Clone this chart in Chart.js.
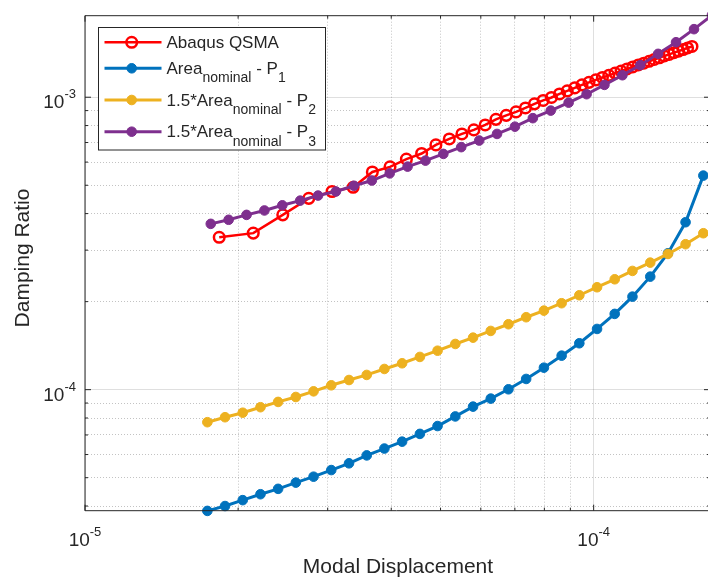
<!DOCTYPE html>
<html>
<head>
<meta charset="utf-8">
<script src="https://cdn.jsdelivr.net/npm/chart.js@4.4.1/dist/chart.umd.min.js"></script>
<style>
  html, body { margin: 0; padding: 0; background: #fff; overflow: hidden; }
  canvas { display: block; }
</style>
</head>
<body>
<canvas id="damping" width="708" height="580"></canvas>
<script>
// Abaqus QSMA reference run
const qsmaDisp = [1.836e-5, 2.142e-5, 2.448e-5, 2.754e-5, 3.060e-5, 3.366e-5, 3.672e-5, 3.978e-5, 4.284e-5, 4.590e-5,
  4.896e-5, 5.202e-5, 5.508e-5, 5.814e-5, 6.120e-5, 6.426e-5, 6.732e-5, 7.038e-5, 7.344e-5, 7.650e-5,
  7.956e-5, 8.262e-5, 8.568e-5, 8.874e-5, 9.180e-5, 9.486e-5, 9.792e-5, 1.0098e-4, 1.0404e-4, 1.0710e-4,
  1.1016e-4, 1.1322e-4, 1.1628e-4, 1.1934e-4, 1.2240e-4, 1.2546e-4, 1.2852e-4, 1.3158e-4, 1.3464e-4, 1.3770e-4,
  1.4076e-4, 1.4382e-4, 1.4688e-4, 1.4994e-4, 1.5300e-4, 1.5606e-4];
const qsmaDamping = [3.32e-4, 3.43e-4, 3.96e-4, 4.51e-4, 4.76e-4, 4.92e-4, 5.55e-4, 5.78e-4, 6.14e-4, 6.42e-4,
  6.87e-4, 7.20e-4, 7.49e-4, 7.73e-4, 8.04e-4, 8.40e-4, 8.67e-4, 8.91e-4, 9.19e-4, 9.49e-4,
  9.75e-4, 9.98e-4, 1.026e-3, 1.051e-3, 1.076e-3, 1.102e-3, 1.124e-3, 1.146e-3, 1.168e-3, 1.188e-3,
  1.209e-3, 1.229e-3, 1.249e-3, 1.269e-3, 1.289e-3, 1.307e-3, 1.327e-3, 1.346e-3, 1.364e-3, 1.384e-3,
  1.401e-3, 1.420e-3, 1.438e-3, 1.456e-3, 1.474e-3, 1.491e-3];

// P1 / P2 share the same displacement sweep
const p12Disp = [1.740e-5, 1.885e-5, 2.042e-5, 2.213e-5, 2.397e-5, 2.597e-5, 2.814e-5, 3.049e-5, 3.304e-5, 3.580e-5,
  3.878e-5, 4.202e-5, 4.554e-5, 4.933e-5, 5.346e-5, 5.793e-5, 6.276e-5, 6.800e-5, 7.367e-5, 7.984e-5,
  8.650e-5, 9.372e-5, 1.0155e-4, 1.100e-4, 1.192e-4, 1.292e-4, 1.400e-4, 1.516e-4, 1.643e-4];
const p1Damping = [3.85e-5, 4.00e-5, 4.19e-5, 4.39e-5, 4.58e-5, 4.81e-5, 5.04e-5, 5.31e-5, 5.60e-5, 5.96e-5,
  6.29e-5, 6.64e-5, 7.06e-5, 7.51e-5, 8.10e-5, 8.75e-5, 9.32e-5, 1.003e-4, 1.088e-4, 1.189e-4,
  1.307e-4, 1.441e-4, 1.613e-4, 1.816e-4, 2.080e-4, 2.435e-4, 2.927e-4, 3.737e-4, 5.395e-4];
const p2Damping = [7.74e-5, 8.05e-5, 8.34e-5, 8.71e-5, 9.08e-5, 9.44e-5, 9.87e-5, 1.035e-4, 1.079e-4, 1.123e-4,
  1.177e-4, 1.231e-4, 1.294e-4, 1.359e-4, 1.433e-4, 1.506e-4, 1.588e-4, 1.674e-4, 1.769e-4, 1.863e-4,
  1.975e-4, 2.103e-4, 2.240e-4, 2.385e-4, 2.547e-4, 2.719e-4, 2.911e-4, 3.143e-4, 3.427e-4];

const p3Disp = [1.767e-5, 1.916e-5, 2.078e-5, 2.253e-5, 2.443e-5, 2.649e-5, 2.872e-5, 3.114e-5, 3.378e-5, 3.663e-5,
  3.972e-5, 4.307e-5, 4.670e-5, 5.064e-5, 5.491e-5, 5.957e-5, 6.457e-5, 7.002e-5, 7.593e-5, 8.234e-5,
  8.929e-5, 9.685e-5, 1.050e-4, 1.139e-4, 1.235e-4, 1.339e-4, 1.452e-4, 1.575e-4, 1.708e-4];
const p3Damping = [3.69e-4, 3.81e-4, 3.96e-4, 4.10e-4, 4.27e-4, 4.43e-4, 4.61e-4, 4.76e-4, 4.98e-4, 5.19e-4,
  5.49e-4, 5.79e-4, 6.07e-4, 6.40e-4, 6.75e-4, 7.11e-4, 7.49e-4, 7.93e-4, 8.48e-4, 9.00e-4,
  9.58e-4, 1.024e-3, 1.102e-3, 1.189e-3, 1.287e-3, 1.407e-3, 1.542e-3, 1.709e-3, 1.907e-3];

// axis ranges and tick positions (log scale, decades + minor 2..9)
const X_MIN = 1e-5, X_MAX = 1.678e-4;
const Y_MIN = 3.856e-5, Y_MAX = 1.90e-3;
const xTicks = [1e-5, 2e-5, 3e-5, 4e-5, 5e-5, 6e-5, 7e-5, 8e-5, 9e-5, 1e-4];
const yTicks = [4e-5, 5e-5, 6e-5, 7e-5, 8e-5, 9e-5, 1e-4, 2e-4, 3e-4, 4e-4, 5e-4, 6e-4, 7e-4, 8e-4, 9e-4, 1e-3];
const xTickLabels = [[1e-5, '-5'], [1e-4, '-4']];
const yTickLabels = [[1e-4, '-4'], [1e-3, '-3']];

// legend text pieces: [text, isSubscript]
const seriesLabels = [
  [['Abaqus QSMA', 0]],
  [['Area', 0], ['nominal', 1], [' - P', 0], ['1', 1]],
  [['1.5*Area', 0], ['nominal', 1], [' - P', 0], ['2', 1]],
  [['1.5*Area', 0], ['nominal', 1], [' - P', 0], ['3', 1]],
];

const FONT = '"Liberation Sans", Arial, Helvetica, sans-serif';
const INK = '#262626';
const isDecade = (v) => Math.abs(Math.log10(v) - Math.round(Math.log10(v))) < 1e-6;
const pairs = (xs, ys) => xs.map((x, i) => ({ x, y: ys[i] }));

const lineSeries = (label, xs, ys, color, order, open) => ({
  label,
  data: pairs(xs, ys),
  borderColor: color,
  borderWidth: open ? 2.5 : 3,
  pointRadius: open ? 5.3 : 4.8,
  pointBorderWidth: open ? 2.5 : 1,
  pointBorderColor: color,
  pointBackgroundColor: open ? 'rgba(0,0,0,0)' : color,
  pointHoverRadius: 5,
  tension: 0,
  clip: false,
  order,
});

// draws "10" with a raised exponent
function drawPower(ctx, exp, x, y, align) {
  ctx.font = `19px ${FONT}`;
  const wb = ctx.measureText('10').width;
  ctx.font = `13px ${FONT}`;
  const we = ctx.measureText(exp).width;
  const x0 = align === 'right' ? x - wb - we : x - (wb + we) / 2;
  ctx.textAlign = 'left';
  ctx.textBaseline = 'alphabetic';
  ctx.font = `19px ${FONT}`;
  ctx.fillText('10', x0, y);
  ctx.font = `13px ${FONT}`;
  ctx.fillText(exp, x0 + wb, y - 10);
}

const axesDecor = {
  id: 'axesDecor',
  afterDatasetsDraw(chart) {
    const { ctx, chartArea: { left, top, right, bottom }, scales: { x, y } } = chart;
    const rightAxis = right + 2; // right spine sits just past the visible edge
    ctx.save();
    ctx.strokeStyle = INK;
    ctx.lineWidth = 1;
    ctx.beginPath();
    ctx.moveTo(right, top); ctx.lineTo(left, top);
    ctx.lineTo(left, bottom); ctx.lineTo(right, bottom);
    // inward tick marks
    x.ticks.forEach((t) => {
      const px = x.getPixelForValue(t.value);
      const len = isDecade(t.value) ? 6 : 3;
      ctx.moveTo(px, bottom); ctx.lineTo(px, bottom - len);
      ctx.moveTo(px, top); ctx.lineTo(px, top + len);
    });
    y.ticks.forEach((t) => {
      const py = y.getPixelForValue(t.value);
      const len = isDecade(t.value) ? 6 : 3;
      ctx.moveTo(left, py); ctx.lineTo(left + len, py);
      ctx.moveTo(rightAxis, py); ctx.lineTo(rightAxis - len, py);
    });
    ctx.stroke();
    ctx.restore();
  },
  afterDraw(chart) {
    const { ctx, chartArea: { left, bottom }, scales: { x, y } } = chart;
    ctx.save();
    ctx.fillStyle = INK;
    xTickLabels.forEach(([v, exp]) => drawPower(ctx, exp, x.getPixelForValue(v), bottom + 35, 'center'));
    yTickLabels.forEach(([v, exp]) => drawPower(ctx, exp, left - 9, y.getPixelForValue(v) + 11, 'right'));

    ctx.font = `21px ${FONT}`;
    ctx.textAlign = 'center';
    ctx.textBaseline = 'alphabetic';
    ctx.fillText('Modal Displacement', 398, 573);
    ctx.save();
    ctx.translate(29, 258);
    ctx.rotate(-Math.PI / 2);
    ctx.fillText('Damping Ratio', 0, 0);
    ctx.restore();

    // legend box
    ctx.fillStyle = '#fff';
    ctx.fillRect(98.5, 27.5, 227, 122.5);
    ctx.strokeStyle = INK;
    ctx.lineWidth = 1;
    ctx.strokeRect(98.5, 27.5, 227, 122.5);
    const rowY = [42.3, 68.3, 100, 131.7];
    chart.data.datasets.forEach((ds, i) => {
      const ly = rowY[i];
      ctx.strokeStyle = ds.borderColor;
      ctx.lineWidth = ds.borderWidth;
      ctx.beginPath();
      ctx.moveTo(104.5, ly); ctx.lineTo(161.5, ly);
      ctx.stroke();
      ctx.beginPath();
      ctx.arc(131.7, ly, ds.pointRadius, 0, Math.PI * 2);
      ctx.fillStyle = ds.pointBackgroundColor;
      ctx.fill();
      ctx.lineWidth = ds.pointBorderWidth;
      ctx.stroke();

      let tx = 166.5;
      const base = ly + 5.5;
      ctx.fillStyle = INK;
      ctx.textAlign = 'left';
      seriesLabels[i].forEach(([txt, sub]) => {
        ctx.font = sub ? `14px ${FONT}` : `17px ${FONT}`;
        ctx.fillText(txt, tx, sub ? base + 8.5 : base);
        tx += ctx.measureText(txt).width;
      });
    });
    ctx.restore();
  },
};

const gridScale = (min, max, ticks) => ({
  type: 'logarithmic',
  min, max,
  afterBuildTicks: (scale) => { scale.ticks = ticks.map((value) => ({ value })); },
  ticks: { display: false },
  grid: {
    drawTicks: false,
    lineWidth: 1,
    color: (c) => (c.tick && isDecade(c.tick.value) ? 'rgba(38,38,38,0.15)' : 'rgba(38,38,38,0.28)'),
  },
  border: {
    display: false,
    dash: (c) => (c.tick && !isDecade(c.tick.value) ? [1, 2] : []),
  },
});

new Chart(document.getElementById('damping').getContext('2d'), {
  type: 'line',
  data: {
    datasets: [
      lineSeries('Abaqus QSMA', qsmaDisp, qsmaDamping, '#FF0000', 4, true),
      lineSeries('Area nominal - P1', p12Disp, p1Damping, '#0072BD', 3, false),
      lineSeries('1.5*Area nominal - P2', p12Disp, p2Damping, '#EDB120', 2, false),
      lineSeries('1.5*Area nominal - P3', p3Disp, p3Damping, '#7E2F8E', 1, false),
    ],
  },
  options: {
    responsive: false,
    animation: false,
    layout: { autoPadding: false, padding: { left: 85, right: 0, top: 15.7, bottom: 69.3 } },
    plugins: { legend: { display: false }, tooltip: { enabled: false } },
    scales: {
      x: gridScale(X_MIN, X_MAX, xTicks),
      y: gridScale(Y_MIN, Y_MAX, yTicks),
    },
  },
  plugins: [axesDecor],
});
</script>
</body>
</html>
